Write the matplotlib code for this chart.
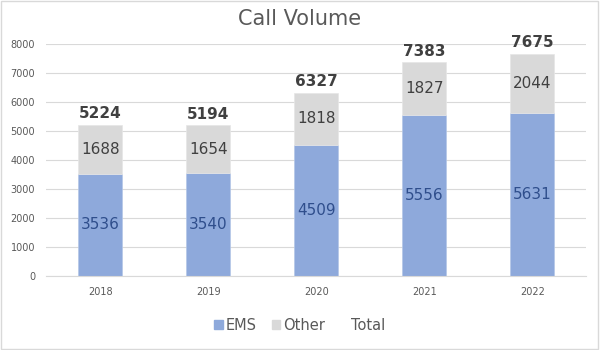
import matplotlib

matplotlib.use("Agg")

import matplotlib.patches as mpatches
import matplotlib.pyplot as plt
import numpy as np

years = ["2018", "2019", "2020", "2021", "2022"]
ems = [3536, 3540, 4509, 5556, 5631]
other = [1688, 1654, 1818, 1827, 2044]
total = [5224, 5194, 6327, 7383, 7675]

EMS_COLOR = "#8EA9DB"
OTHER_COLOR = "#D9D9D9"
TEXT = "#595959"
DARK = "#404040"

fig = plt.figure(figsize=(6.0, 3.5), dpi=100, facecolor="white")
fig.patches.append(
    mpatches.Rectangle((0.002, 0.003), 0.995, 0.994, transform=fig.transFigure,
                       fill=False, ec="#D9D9D9", lw=1.0)
)

ax = fig.add_axes([0.077, 0.211, 0.900, 0.663])
x = np.arange(len(years))
w = 0.41

ax.bar(x, ems, w, color=EMS_COLOR, edgecolor="#B4C7E7", lw=0.5, zorder=2)
ax.bar(x, other, w, bottom=ems, color=OTHER_COLOR, edgecolor="#E6E6E6", lw=0.5, zorder=2)

for i in range(len(years)):
    ax.text(x[i], ems[i] / 2, str(ems[i]), ha="center", va="center",
            fontsize=11, color="#2F4E8C")
    ax.text(x[i], ems[i] + other[i] / 2, str(other[i]), ha="center", va="center",
            fontsize=11, color=DARK)
    ax.text(x[i], total[i] + 120, str(total[i]), ha="center", va="bottom",
            fontsize=11, color=DARK, fontweight="bold", clip_on=False)

ax.set_xlim(-0.5, len(years) - 0.5)
ax.set_ylim(0, 8000)
ax.set_yticks(range(0, 8001, 1000))
ax.set_xticks(x)
ax.set_xticklabels(years)
ax.tick_params(axis="both", length=0, labelsize=7, colors=TEXT)
ax.tick_params(axis="y", pad=8)
ax.tick_params(axis="x", pad=8)
ax.grid(axis="y", color="#D9D9D9", lw=0.8, zorder=0)
ax.set_axisbelow(True)
for s in ["top", "right", "left"]:
    ax.spines[s].set_visible(False)
ax.spines["bottom"].set_color("#D9D9D9")

fig.text(0.5, 0.945, "Call Volume", ha="center", va="center", fontsize=15, color=TEXT)

handles = [
    mpatches.Patch(color=EMS_COLOR, label="EMS"),
    mpatches.Patch(color=OTHER_COLOR, label="Other"),
    mpatches.Patch(color="none", label="Total"),
]
leg = fig.legend(handles=handles, loc="center", bbox_to_anchor=(0.5, 0.07), ncol=3,
                 frameon=False, fontsize=10.5, handlelength=0.6, handleheight=0.6,
                 handletextpad=0.2, columnspacing=1.0)
for t in leg.get_texts():
    t.set_color(TEXT)

fig.savefig("out.png", dpi=100, facecolor="white")
